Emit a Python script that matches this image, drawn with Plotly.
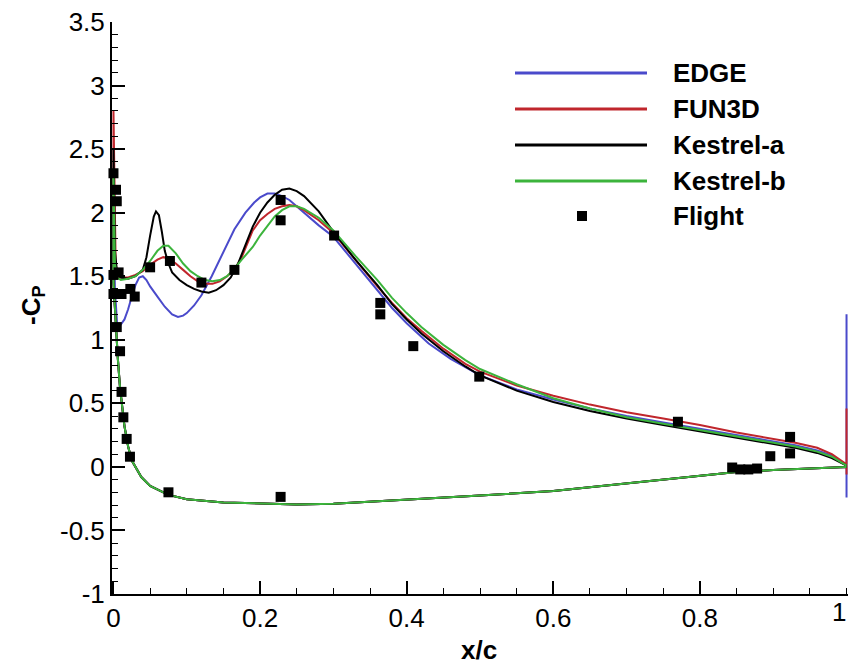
import plotly.graph_objects as go

# ---------------- data ----------------
# lower surface (shared shape for all codes), trailing edge -> leading edge
LOWER_X = [1.0, 0.95, 0.9, 0.85, 0.8, 0.7, 0.6, 0.5, 0.4, 0.3, 0.25, 0.2, 0.15, 0.1,
           0.075, 0.05, 0.038, 0.025, 0.02, 0.015, 0.012, 0.009, 0.006, 0.003, 0.0]
LOWER_Y = [0.0, -0.01, -0.025, -0.04, -0.07, -0.135, -0.19, -0.225, -0.26, -0.29, -0.295, -0.29,
           -0.28, -0.255, -0.22, -0.15, -0.08, 0.05, 0.16, 0.32, 0.45, 0.62, 0.85, 1.15, 1.45]

# upper surfaces, leading edge -> trailing edge
EDGE_X = [0.0, 0.002, 0.005, 0.01, 0.015, 0.02, 0.025, 0.03, 0.035, 0.04, 0.045, 0.05, 0.06, 0.07,
          0.08, 0.088, 0.095, 0.1, 0.11, 0.12, 0.134, 0.15, 0.165, 0.18, 0.192, 0.2, 0.21, 0.22,
          0.23, 0.24, 0.25, 0.26, 0.28, 0.3, 0.33, 0.36, 0.38, 0.4, 0.43, 0.46, 0.5, 0.55, 0.6,
          0.65, 0.7, 0.75, 0.8, 0.85, 0.9, 0.93, 0.96, 0.98, 1.0, 1.0, 1.0]
EDGE_Y = [2.0, 1.4, 1.12, 1.12, 1.16, 1.24, 1.34, 1.43, 1.49, 1.5, 1.47, 1.42, 1.34, 1.26,
          1.2, 1.18, 1.19, 1.21, 1.27, 1.35, 1.5, 1.69, 1.87, 2.0, 2.08, 2.12, 2.15, 2.15,
          2.13, 2.1, 2.05, 2.0, 1.9, 1.81, 1.6, 1.39, 1.25, 1.13, 0.97, 0.85, 0.72, 0.61, 0.53,
          0.46, 0.4, 0.35, 0.3, 0.25, 0.2, 0.17, 0.13, 0.09, 0.01, 1.2, -0.24]

FUN3D_X = [0.0, 0.001, 0.003, 0.006, 0.01, 0.02, 0.03, 0.04, 0.05, 0.06, 0.068, 0.075, 0.085,
           0.095, 0.105, 0.115, 0.125, 0.135, 0.145, 0.155, 0.165, 0.175, 0.19, 0.2, 0.21, 0.22,
           0.23, 0.24, 0.25, 0.26, 0.28, 0.3, 0.33, 0.36, 0.38, 0.4, 0.42, 0.45, 0.48, 0.5, 0.55,
           0.6, 0.65, 0.7, 0.75, 0.8, 0.85, 0.9, 0.93, 0.96, 0.98, 1.0, 1.0, 1.0]
FUN3D_Y = [2.8, 2.3, 1.6, 1.5, 1.49, 1.49, 1.51, 1.54, 1.59, 1.63, 1.65, 1.64, 1.6,
           1.55, 1.5, 1.46, 1.44, 1.44, 1.46, 1.5, 1.55, 1.65, 1.86, 1.94, 1.99, 2.03,
           2.05, 2.06, 2.05, 2.02, 1.94, 1.84, 1.63, 1.42, 1.29, 1.17, 1.07, 0.93, 0.81, 0.75, 0.64,
           0.56, 0.49, 0.43, 0.38, 0.33, 0.27, 0.22, 0.19, 0.15, 0.1, 0.02, 0.46, -0.06]

KESA_X = [0.0, 0.002, 0.005, 0.01, 0.02, 0.03, 0.04, 0.045, 0.05, 0.055, 0.058, 0.062, 0.066,
          0.07, 0.075, 0.08, 0.09, 0.1, 0.11, 0.12, 0.13, 0.14, 0.15, 0.16, 0.17, 0.18, 0.19,
          0.2, 0.21, 0.22, 0.23, 0.24, 0.25, 0.26, 0.27, 0.28, 0.29, 0.3, 0.33, 0.36, 0.38,
          0.4, 0.42, 0.45, 0.48, 0.5, 0.55, 0.6, 0.65, 0.7, 0.75, 0.8, 0.85, 0.9, 0.93, 0.96,
          0.98, 1.0]
KESA_Y = [2.5, 1.7, 1.52, 1.49, 1.48, 1.5, 1.55, 1.65, 1.82, 1.97, 2.01, 1.98, 1.85,
          1.7, 1.6, 1.53, 1.47, 1.43, 1.4, 1.38, 1.37, 1.39, 1.43, 1.49, 1.6, 1.74, 1.89,
          2.0, 2.08, 2.14, 2.18, 2.19, 2.17, 2.13, 2.07, 2.01, 1.93, 1.85, 1.63, 1.43, 1.28,
          1.16, 1.05, 0.91, 0.79, 0.72, 0.6, 0.51, 0.44, 0.38, 0.33, 0.28, 0.23, 0.18, 0.15, 0.11,
          0.07, 0.01]

KESB_X = [0.0, 0.002, 0.005, 0.01, 0.02, 0.03, 0.04, 0.05, 0.06, 0.068, 0.075, 0.085, 0.095,
          0.105, 0.115, 0.125, 0.135, 0.145, 0.155, 0.165, 0.175, 0.19, 0.2, 0.21, 0.22, 0.23,
          0.24, 0.25, 0.26, 0.28, 0.3, 0.33, 0.36, 0.38, 0.4, 0.42, 0.45, 0.48, 0.5, 0.55, 0.6,
          0.65, 0.7, 0.75, 0.8, 0.85, 0.9, 0.93, 0.96, 0.98, 1.0]
KESB_Y = [2.3, 1.6, 1.49, 1.47, 1.48, 1.5, 1.55, 1.62, 1.7, 1.74, 1.74, 1.68, 1.6,
          1.54, 1.5, 1.47, 1.46, 1.47, 1.5, 1.56, 1.63, 1.73, 1.82, 1.9, 1.97, 2.02,
          2.05, 2.05, 2.03, 1.96, 1.86, 1.66, 1.47, 1.33, 1.21, 1.1, 0.96, 0.84, 0.77, 0.65, 0.54,
          0.46, 0.39, 0.34, 0.29, 0.24, 0.19, 0.16, 0.12, 0.08, 0.01]

FLIGHT_X = [0.0, 0.0035, 0.0045, 0.0, 0.007, 0.0, 0.011, 0.023, 0.029, 0.05, 0.077, 0.12, 0.165,
            0.228, 0.228, 0.301, 0.364, 0.364, 0.409, 0.499, 0.77, 0.923, 0.923, 0.896, 0.844,
            0.855, 0.866, 0.878, 0.0045, 0.009, 0.011, 0.0135, 0.018, 0.0225, 0.075, 0.228]
FLIGHT_Y = [2.31, 2.18, 2.09, 1.51, 1.53, 1.36, 1.36, 1.40, 1.34, 1.57, 1.62, 1.45, 1.55,
            2.10, 1.94, 1.82, 1.29, 1.20, 0.95, 0.71, 0.355, 0.236, 0.106, 0.084, -0.005,
            -0.02, -0.02, -0.013, 1.10, 0.91, 0.59, 0.39, 0.22, 0.08, -0.20, -0.236]

SERIES = [
    ("EDGE", EDGE_X, EDGE_Y, "#4a4acb"),
    ("FUN3D", FUN3D_X, FUN3D_Y, "#c0262c"),
    ("Kestrel-a", KESA_X, KESA_Y, "#000000"),
    ("Kestrel-b", KESB_X, KESB_Y, "#3cb43c"),
]
X_TICKS = [0, 0.2, 0.4, 0.6, 0.8, 1]
X_TICKTEXT = ["0", "0.2", "0.4", "0.6", "0.8", "1"]
Y_TICKS = [-1, -0.5, 0, 0.5, 1, 1.5, 2, 2.5, 3, 3.5]
Y_TICKTEXT = ["-1", "-0.5", "0", "0.5", "1", "1.5", "2", "2.5", "3", "3.5"]

# ---------------- figure ----------------
W, H = 849, 666
ML, MR, MT, MB = 112, 1, 22, 72
PW, PH = W - ML - MR, H - MT - MB

def px(xp):
    return (xp - ML) / PW

def py(yp):
    return (H - MB - yp) / PH

FONT = "Liberation Sans, Arial, Helvetica, sans-serif"

fig = go.Figure()
for name, ux, uy, col in SERIES:
    xs = list(LOWER_X) + list(ux)
    ys = list(LOWER_Y) + list(uy)
    fig.add_trace(go.Scatter(x=xs, y=ys, mode="lines", name=name,
                             line=dict(color=col, width=2), showlegend=False))

fig.add_trace(go.Scatter(x=FLIGHT_X, y=FLIGHT_Y, mode="markers", name="Flight",
                         marker=dict(symbol="square", size=10, color="black"),
                         cliponaxis=False, showlegend=False))

# manual legend (long line samples as in the original)
shapes = []
annotations = []
rows = [73, 109, 145, 181, 216]
for (name, _, _, col), ry in zip(SERIES, rows[:4]):
    shapes.append(dict(type="line", xref="paper", yref="paper",
                       x0=px(515), x1=px(647), y0=py(ry), y1=py(ry),
                       line=dict(color=col, width=3)))
    annotations.append(dict(text="<b>%s</b>" % name, xref="paper", yref="paper",
                            x=px(671), y=py(ry), xanchor="left", yanchor="middle",
                            showarrow=False, font=dict(family=FONT, size=26, color="black")))
shapes.append(dict(type="rect", xref="paper", yref="paper",
                   x0=px(577), x1=px(587), y0=py(221), y1=py(211),
                   fillcolor="black", line=dict(width=0)))
annotations.append(dict(text="<b>Flight</b>", xref="paper", yref="paper",
                        x=px(671), y=py(216), xanchor="left", yanchor="middle",
                        showarrow=False, font=dict(family=FONT, size=26, color="black")))

# last x tick label, kept inside the canvas
annotations.append(dict(text=X_TICKTEXT[-1], xref="paper", yref="paper",
                        x=1.0, y=py(612), xanchor="right", yanchor="middle",
                        showarrow=False, font=dict(family=FONT, size=26, color="black")))

# axis titles
annotations.append(dict(text="<b>x/c</b>", xref="paper", yref="paper",
                        x=px(479), y=py(650), xanchor="center", yanchor="middle",
                        showarrow=False, font=dict(family=FONT, size=26, color="black")))
annotations.append(dict(text="<b>-C<sub>P</sub></b>", xref="paper", yref="paper",
                        x=px(32), y=py(305), xanchor="center", yanchor="middle",
                        textangle=-90, showarrow=False,
                        font=dict(family=FONT, size=26, color="black")))

fig.update_layout(
    width=W, height=H,
    margin=dict(l=ML, r=MR, t=MT, b=MB),
    paper_bgcolor="white", plot_bgcolor="white",
    font=dict(family=FONT, size=26, color="black"),
    shapes=shapes, annotations=annotations,
    showlegend=False,
)
fig.update_xaxes(range=[-0.002, 1.002], tickvals=X_TICKS[:-1], ticktext=X_TICKTEXT[:-1],
                 ticks="inside", ticklen=13, tickwidth=2, tickcolor="black",
                 minor=dict(tick0=0, dtick=0.05, ticks="inside", ticklen=6, tickwidth=1,
                            tickcolor="black"),
                 showline=True, linecolor="black", linewidth=2, mirror=False,
                 showgrid=False, zeroline=False,
                 tickfont=dict(family=FONT, size=26, color="black"))
fig.update_yaxes(range=[-1, 3.5], tickvals=Y_TICKS, ticktext=Y_TICKTEXT,
                 ticks="inside", ticklen=13, tickwidth=2, tickcolor="black",
                 minor=dict(dtick=0.1, ticks="inside", ticklen=6, tickwidth=1, tickcolor="black"),
                 showline=True, linecolor="black", linewidth=2, mirror=False,
                 showgrid=False, zeroline=False,
                 tickfont=dict(family=FONT, size=26, color="black"))

fig.write_html("out.html")
